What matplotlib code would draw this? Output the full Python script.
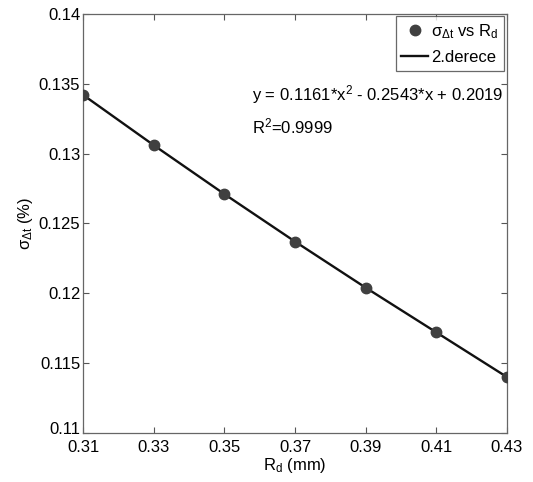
import numpy as np
import matplotlib.pyplot as plt
from matplotlib.transforms import ScaledTranslation

plt.rcParams['font.family'] = ['Liberation Sans', 'DejaVu Sans']
plt.rcParams['mathtext.fontset'] = 'custom'
plt.rcParams['mathtext.rm'] = 'Liberation Sans'
plt.rcParams['mathtext.it'] = 'Liberation Sans'

# data
rd = [0.31, 0.33, 0.35, 0.37, 0.39, 0.41, 0.43]
sigma = [0.1342, 0.1306, 0.1271, 0.1237, 0.1204, 0.1172, 0.1140]
xticks = [0.31, 0.33, 0.35, 0.37, 0.39, 0.41, 0.43]
yticks = [0.11, 0.115, 0.12, 0.125, 0.13, 0.135, 0.14]

fig = plt.figure(figsize=(5.33, 4.82), dpi=100)
ax = fig.add_axes([0.156, 0.102, 0.795, 0.869])

ax.plot(rd, sigma, 'o', color='#404040', markersize=7.5, label=r'$\sigma_{\Delta t}$ vs R$_d$', zorder=3)
ax.plot(rd, sigma, '-', color='#111111', lw=1.7, label='2.derece', zorder=2)

ax.set_xlim(0.31, 0.43)
ax.set_ylim(0.11, 0.14)
ax.set_xticks(xticks)
ax.set_xticklabels([str(v) for v in xticks])
ax.set_yticks(yticks)
ax.set_yticklabels([f'{v:g}' for v in yticks])
ax.tick_params(direction='in', top=True, right=True, labelsize=12, length=4, color='#555555')
ax.tick_params(axis='x', pad=5)
ax.tick_params(axis='y', pad=2)
for s in ax.spines.values():
    s.set_color('#666666')
    s.set_linewidth(0.9)

# lowest y label sits a bit higher, like the original
lab0 = ax.get_yticklabels()[0]
lab0.set_transform(lab0.get_transform() + ScaledTranslation(0, 5 / 100, fig.dpi_scale_trans))

ax.set_xlabel('R$_d$ (mm)', fontsize=12, labelpad=1)
ax.set_ylabel(r'$\sigma_{\Delta t}$ (%)', fontsize=12, labelpad=3)

ax.text(0.3578, 0.13384, 'y = 0.1161*x$^2$ - 0.2543*x + 0.2019', fontsize=12)
ax.text(0.3578, 0.13148, 'R$^2$=0.9999', fontsize=12)

leg = ax.legend(loc='upper right', fontsize=12, frameon=True, fancybox=False,
                edgecolor='#444444', borderaxespad=0.15, handlelength=1.6,
                handletextpad=0.18, borderpad=0.35, labelspacing=0.55)
leg.get_frame().set_linewidth(0.9)

fig.savefig('out.png', dpi=100)
